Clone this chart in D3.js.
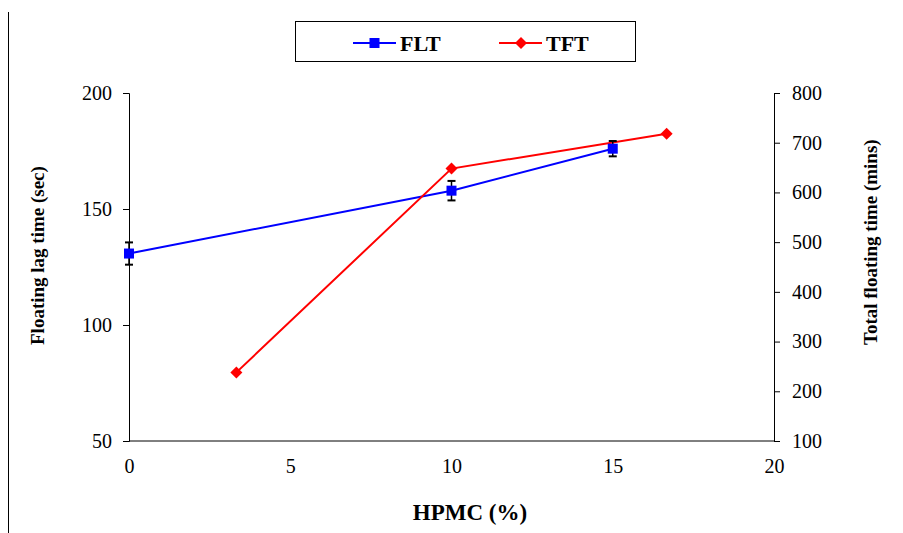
<!DOCTYPE html>
<html>
<head>
<meta charset="utf-8">
<script src="https://cdn.jsdelivr.net/npm/d3@7"></script>
<style>
body { margin: 0; background: #fff; }
text { font-family: "Liberation Serif", "Times New Roman", serif; }
</style>
</head>
<body>
<script>
// values
let fltX = [0, 10, 15];
let fltY = [130.8, 157.9, 176];
let fltErr = [4.8, 4.2, 3.3];
let tftX = [3.33, 10, 16.67];
let tftY = [238, 648, 718];
let xTicks = [0, 5, 10, 15, 20];
let leftTicks = [50, 100, 150, 200];
let rightTicks = [100, 200, 300, 400, 500, 600, 700, 800];

var W = 903, H = 533;
var margin = {top: 93, left: 129, right: 129, bottom: 92};
var width = W - margin.left - margin.right;
var height = H - margin.top - margin.bottom;

var svg = d3.select('body').append('svg')
    .attr('width', W).attr('height', H);

// left frame line
svg.append('line').attr('x1', 8.5).attr('x2', 8.5).attr('y1', 12).attr('y2', H)
    .style('stroke', 'black').style('stroke-width', 1);

var g = svg.append('g')
    .attr('transform', 'translate(' + margin.left + ',' + margin.top + ')');

var xScale = d3.scaleLinear().domain([0, 20]).range([0, width]);
var yLeft = d3.scaleLinear().domain([50, 200]).range([height, 0]);
var yRight = d3.scaleLinear().domain([100, 800]).range([height, 0]);

var xAxis = d3.axisBottom(xScale).tickValues(xTicks).tickSize(0).tickPadding(18);
var lAxis = d3.axisLeft(yLeft).tickValues(leftTicks).tickSize(6).tickPadding(11);
var rAxis = d3.axisRight(yRight).tickValues(rightTicks).tickSize(6).tickPadding(12);

function styleAxis(sel) {
    sel.select('.domain').style('stroke', 'black');
    sel.selectAll('.tick line').style('stroke', 'black');
    sel.selectAll('text').style('font-family', '"Liberation Serif", serif')
        .style('font-size', '20px').style('fill', 'black');
}

g.append('g').attr('transform', 'translate(0,' + height + ')')
    .call(xAxis).call(styleAxis).call(s => s.select('.domain').attr('d', 'M0,0H' + width));
g.append('g').call(lAxis).call(styleAxis);
g.append('g').attr('transform', 'translate(' + width + ',0)').call(rAxis).call(styleAxis);

// lines
var fltData = fltX.map((x, i) => ({x: x, y: fltY[i], e: fltErr[i]}));
var tftData = tftX.map((x, i) => ({x: x, y: tftY[i]}));

g.append('path').datum(fltData)
    .attr('d', d3.line().x(d => xScale(d.x)).y(d => yLeft(d.y)))
    .style('fill', 'none').style('stroke', '#0000ff').style('stroke-width', 2);
g.append('path').datum(tftData)
    .attr('d', d3.line().x(d => xScale(d.x)).y(d => yRight(d.y)))
    .style('fill', 'none').style('stroke', '#ff0000').style('stroke-width', 2);

// error bars
var eb = g.selectAll('.err').data(fltData).enter().append('g').attr('class', 'err');
eb.append('line')
    .attr('x1', d => xScale(d.x)).attr('x2', d => xScale(d.x))
    .attr('y1', d => yLeft(d.y + d.e)).attr('y2', d => yLeft(d.y - d.e))
    .style('stroke', 'black').style('stroke-width', 1.5);
eb.append('line')
    .attr('x1', d => xScale(d.x) - 4).attr('x2', d => xScale(d.x) + 4)
    .attr('y1', d => yLeft(d.y + d.e)).attr('y2', d => yLeft(d.y + d.e))
    .style('stroke', 'black').style('stroke-width', 2);
eb.append('line')
    .attr('x1', d => xScale(d.x) - 4).attr('x2', d => xScale(d.x) + 4)
    .attr('y1', d => yLeft(d.y - d.e)).attr('y2', d => yLeft(d.y - d.e))
    .style('stroke', 'black').style('stroke-width', 2);

// markers
g.selectAll('.sq').data(fltData).enter().append('rect')
    .attr('x', d => xScale(d.x) - 5).attr('y', d => yLeft(d.y) - 5)
    .attr('width', 10).attr('height', 10).style('fill', '#0000ff');
g.selectAll('.dm').data(tftData).enter().append('path')
    .attr('transform', d => 'translate(' + xScale(d.x) + ',' + yRight(d.y) + ')')
    .attr('d', 'M0,-6L6,0L0,6L-6,0Z').style('fill', '#ff0000');

// axis titles
svg.append('text').attr('transform', 'translate(44,345) rotate(-90)')
    .attr('text-anchor', 'start').style('font-weight', 'bold').style('font-size', '19px')
    .text('Floating lag time (sec)');
svg.append('text').attr('transform', 'translate(877,345) rotate(-90)')
    .attr('text-anchor', 'start').style('font-weight', 'bold').style('font-size', '19px')
    .text('Total floating time (mins)');
svg.append('text').attr('x', 470).attr('y', 520)
    .attr('text-anchor', 'middle').style('font-weight', 'bold').style('font-size', '23px')
    .text('HPMC (%)');

// legend
var leg = svg.append('g');
leg.append('rect').attr('x', 295.5).attr('y', 21.5).attr('width', 340).attr('height', 40)
    .style('fill', 'white').style('stroke', 'black').style('stroke-width', 1);
leg.append('line').attr('x1', 353).attr('x2', 396).attr('y1', 43).attr('y2', 43)
    .style('stroke', '#0000ff').style('stroke-width', 2);
leg.append('rect').attr('x', 369.5).attr('y', 38).attr('width', 10).attr('height', 10)
    .style('fill', '#0000ff');
leg.append('text').attr('x', 400).attr('y', 51).style('font-weight', 'bold')
    .style('font-size', '22px').text('FLT');
leg.append('line').attr('x1', 499).attr('x2', 542).attr('y1', 43).attr('y2', 43)
    .style('stroke', '#ff0000').style('stroke-width', 2);
leg.append('path').attr('transform', 'translate(521,43)')
    .attr('d', 'M0,-6L6,0L0,6L-6,0Z').style('fill', '#ff0000');
leg.append('text').attr('x', 546).attr('y', 51).style('font-weight', 'bold')
    .style('font-size', '22px').text('TFT');
</script>
</body>
</html>
